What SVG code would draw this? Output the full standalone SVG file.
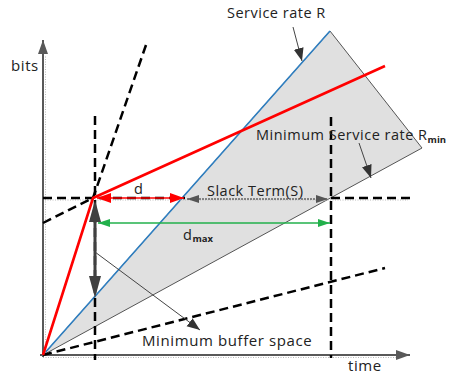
<svg xmlns="http://www.w3.org/2000/svg" width="459" height="376" viewBox="0 0 459 376">
  <defs>
    <style>
      text { font-family: "Open Sans", "Liberation Sans", sans-serif; fill: #222; }
      .lbl { font-size: 14.5px; letter-spacing: 0.5px; }
      .big { font-size: 15px; letter-spacing: 0.6px; }
      .sub { font-size: 9.5px; font-weight: bold; letter-spacing: 0; }
      .dash { fill: none; stroke: #000; stroke-width: 2.5; stroke-dasharray: 9 5; }
      .axis { fill: none; stroke: #595959; stroke-width: 2; }
      .shadow { fill: none; stroke: #b8b8b8; stroke-width: 1; stroke-dasharray: 1 1.5; }
      .callout { fill: none; stroke: #444; stroke-width: 1; }
    </style>
    <marker id="axArrow" markerUnits="userSpaceOnUse" markerWidth="16" markerHeight="12" refX="14" refY="5" orient="auto">
      <path d="M0,0 L14,5 L0,10 Z" fill="#595959"/>
    </marker>
    <marker id="callArrow" markerUnits="userSpaceOnUse" markerWidth="16" markerHeight="12" refX="13" refY="5" orient="auto">
      <path d="M0,0 L13,5 L0,10 Z" fill="#333"/>
    </marker>
    <marker id="redEnd" markerUnits="userSpaceOnUse" markerWidth="16" markerHeight="12" refX="14" refY="5" orient="auto-start-reverse">
      <path d="M0,0 L14,5 L0,10 Z" fill="#ff0000"/>
    </marker>
    <marker id="greenEnd" markerUnits="userSpaceOnUse" markerWidth="14" markerHeight="10" refX="12" refY="4" orient="auto-start-reverse">
      <path d="M0,0 L12,4 L0,8 Z" fill="#22b04b"/>
    </marker>
    <marker id="grayEnd" markerUnits="userSpaceOnUse" markerWidth="14" markerHeight="10" refX="12" refY="4" orient="auto-start-reverse">
      <path d="M0,0 L12,4 L0,8 Z" fill="#555"/>
    </marker>
  </defs>

  <rect width="459" height="376" fill="#fff"/>

  <!-- Service region (triangle between R and Rmin) -->
  <g id="service-region">
    <polygon points="43,355 330,31 422,148" fill="#e0e0e0" stroke="#555" stroke-width="1"/>
    <line x1="43" y1="355" x2="330" y2="31" stroke="#2f7fc1" stroke-width="1.6"/>
  </g>

  <!-- Axes -->
  <g id="axes">
    <line class="shadow" x1="45.5" y1="355" x2="45.5" y2="55"/>
    <line class="shadow" x1="43" y1="357.5" x2="396" y2="357.5"/>
    <line class="axis" x1="43" y1="357" x2="43" y2="40" marker-end="url(#axArrow)"/>
    <line class="axis" x1="40" y1="355" x2="410" y2="355" marker-end="url(#axArrow)"/>
  </g>

  <!-- Connectors / lines -->
  <g id="connectors">
    <line class="shadow" x1="45" y1="200" x2="408" y2="200"/>
    <line class="dash" x1="43" y1="198" x2="185" y2="198"/>
    <line class="dash" x1="331" y1="198" x2="410" y2="198"/>
    <line class="dash" x1="95" y1="116" x2="95" y2="360"/>
    <line class="dash" x1="331" y1="117" x2="331" y2="358"/>
    <line class="dash" x1="146" y1="45" x2="93" y2="198"/>
    <line class="dash" x1="43" y1="223" x2="93" y2="198"/>
    <line class="dash" x1="43" y1="355" x2="385" y2="268"/>

    <polyline points="43,355 93,198 385,66" fill="none" stroke="#ff0000" stroke-width="2.6" stroke-linejoin="round"/>

    <line x1="97" y1="198" x2="184" y2="198" stroke="#ff0000" stroke-width="1.5" marker-start="url(#redEnd)" marker-end="url(#redEnd)"/>
    <line x1="187" y1="199" x2="328" y2="199" stroke="#666" stroke-width="1.3" stroke-dasharray="2 1" marker-start="url(#grayEnd)" marker-end="url(#grayEnd)"/>
    <line x1="98" y1="223" x2="330" y2="223" stroke="#22b04b" stroke-width="1.3" marker-start="url(#greenEnd)" marker-end="url(#greenEnd)"/>

    <line x1="95" y1="212" x2="95" y2="286" stroke="#404040" stroke-width="3"/>
    <polygon points="95,200 89,222 101,222" fill="#404040"/>
    <polygon points="95,298 89,276 101,276" fill="#404040"/>

    <line class="callout" x1="293" y1="27" x2="302" y2="61" marker-end="url(#callArrow)"/>
    <line class="callout" x1="359" y1="143" x2="371" y2="178" marker-end="url(#callArrow)"/>
    <line class="callout" x1="95" y1="252" x2="200" y2="330" marker-end="url(#callArrow)"/>
  </g>

  <!-- Labels -->
  <g id="label-bits"><text class="big" x="11" y="71">bits</text></g>
  <g id="label-time"><text class="big" x="348" y="371">time</text></g>
  <g id="label-service-rate"><text class="lbl" x="227" y="18">Service rate R</text></g>
  <g id="label-min-service-rate"><text class="lbl" x="256" y="140">Minimum Service rate R<tspan class="sub" dy="3">min</tspan></text></g>
  <g id="label-d"><text class="lbl" x="134" y="194">d</text></g>
  <g id="label-slack"><text class="lbl" x="207" y="196">Slack Term(S)</text></g>
  <g id="label-dmax"><text class="lbl" x="183" y="240">d<tspan class="sub" dy="2">max</tspan></text></g>
  <g id="label-buffer"><text class="big" x="142" y="346">Minimum buffer space</text></g>
</svg>
